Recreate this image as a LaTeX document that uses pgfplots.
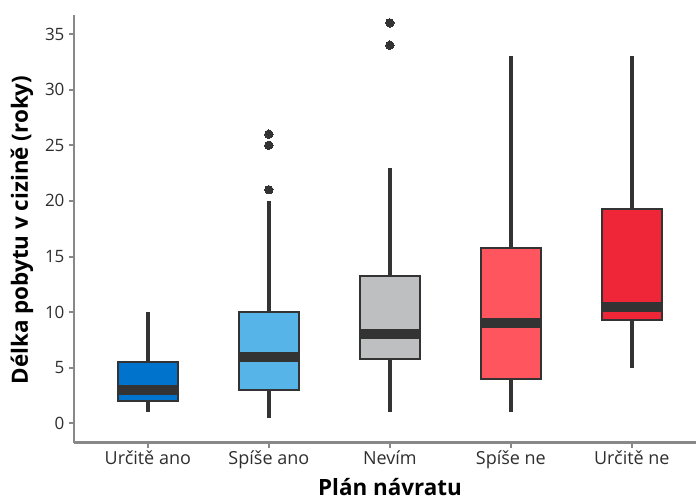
\documentclass[border=0pt]{standalone}
\usepackage{fontspec}
\setmainfont{Open Sans}
\usepackage{pgfplots}
\pgfplotsset{compat=1.18}
\usepgfplotslibrary{statistics}
\definecolor{c1}{HTML}{0074CC}
\definecolor{c2}{HTML}{56B4E8}
\definecolor{c3}{HTML}{BEBFC1}
\definecolor{c4}{HTML}{FF555F}
\definecolor{c5}{HTML}{EE2638}
\definecolor{dk}{HTML}{333333}
\definecolor{axgray}{HTML}{888888}
\definecolor{tickcol}{HTML}{2E2E2E}
\begin{document}
\begin{tikzpicture}
\begin{axis}[
  name=ax,
  scale only axis, width=622pt, height=428pt,
  xmin=0.39, xmax=5.53, ymin=-1.74, ymax=36.74,
  axis x line*=bottom, axis y line*=left,
  x axis line style={-}, y axis line style={-},
  axis line style={draw=axgray, line width=2.4pt},
  xtick={1,2,3,4,5},
  xticklabels={Určitě ano, Spíše ano, Nevím, Spíše ne, Určitě ne},
  ytick={0,5,10,15,20,25,30,35},
  tick align=outside, major tick length=5pt,
  tick style={draw=axgray, line width=2pt},
  xticklabel style={font=\fontsize{18}{20}\selectfont, text=tickcol, yshift=1pt},
  yticklabel style={font=\fontsize{17}{20}\selectfont, text=tickcol, xshift=-1pt},
  /pgf/number format/assume math mode=true,
  xlabel={Plán návratu}, ylabel={Délka pobytu v cizině (roky)},
  xlabel style={font=\fontsize{22.4}{26}\selectfont\bfseries, at={(axis description cs:0.508,-0.1035)}, anchor=center},
  ylabel style={font=\fontsize{22.4}{26}\selectfont\bfseries, at={(axis description cs:-0.0836,0.497)}, anchor=center, rotate=0},
  boxplot/draw direction=y,
  boxplot/box extend=0.5,
  boxplot/whisker extend=0,
  boxplot/every whisker/.style={line width=4.5pt, draw=dk},
  boxplot/every median/.style={line width=10pt, draw=dk},
  boxplot/every box/.style={line width=2pt, draw=dk},
  clip=false,
]
\addplot[fill=c1, draw=dk, mark=*, mark size=4.2pt, mark options={fill=dk, draw=dk, line width=0pt},
  boxplot prepared={draw position=1, lower whisker=1, lower quartile=2, median=3, upper quartile=5.5, upper whisker=10}]
  coordinates {};
\addplot[fill=c2, draw=dk, mark=*, mark size=4.2pt, mark options={fill=dk, draw=dk, line width=0pt},
  boxplot prepared={draw position=2, lower whisker=0.5, lower quartile=3, median=6, upper quartile=10, upper whisker=20}]
  coordinates {(0,21) (0,25) (0,26)};
\addplot[fill=c3, draw=dk, mark=*, mark size=4.2pt, mark options={fill=dk, draw=dk, line width=0pt},
  boxplot prepared={draw position=3, lower whisker=1, lower quartile=5.75, median=8, upper quartile=13.25, upper whisker=23}]
  coordinates {(0,34) (0,36)};
\addplot[fill=c4, draw=dk, mark=*, mark size=4.2pt, mark options={fill=dk, draw=dk, line width=0pt},
  boxplot prepared={draw position=4, lower whisker=1, lower quartile=4, median=9, upper quartile=15.75, upper whisker=33}]
  coordinates {};
\addplot[fill=c5, draw=dk, mark=*, mark size=4.2pt, mark options={fill=dk, draw=dk, line width=0pt},
  boxplot prepared={draw position=5, lower whisker=5, lower quartile=9.25, median=10.5, upper quartile=19.25, upper whisker=33}]
  coordinates {};
\end{axis}
\pgfresetboundingbox
\path[use as bounding box] ([xshift=-74pt,yshift=-57.3pt]ax.south west) rectangle ++(696pt,500pt);
\end{tikzpicture}
\end{document}
